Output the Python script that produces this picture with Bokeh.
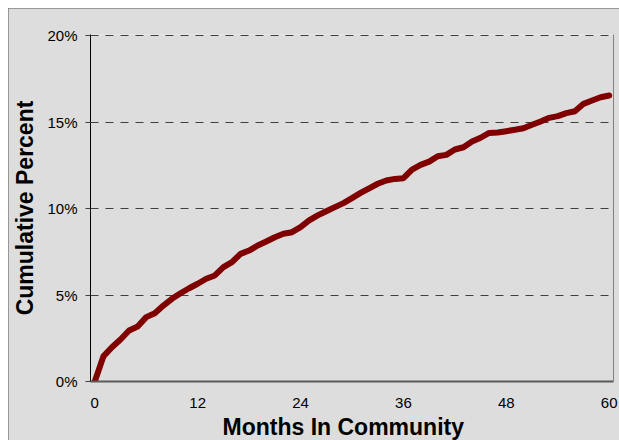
from bokeh.plotting import figure
from bokeh.embed import file_html
from bokeh.resources import INLINE
from bokeh.models import FixedTicker, NumeralTickFormatter, LinearAxis, Title, Range1d

# Data: cumulative percent by month in community
months = list(range(0, 61))
cum_pct = [0.00, 1.45, 1.98, 2.43, 2.95, 3.18, 3.72, 3.95, 4.39, 4.78,
           5.10, 5.39, 5.65, 5.94, 6.13, 6.61, 6.90, 7.38, 7.57, 7.86,
           8.09, 8.34, 8.54, 8.63, 8.92, 9.31, 9.60, 9.84, 10.08, 10.31,
           10.60, 10.90, 11.17, 11.43, 11.62, 11.71, 11.75, 12.25, 12.52, 12.71,
           13.02, 13.10, 13.41, 13.54, 13.87, 14.09, 14.37, 14.39, 14.47, 14.55,
           14.64, 14.84, 15.03, 15.24, 15.34, 15.51, 15.62, 16.05, 16.24, 16.43,
           16.53]
x_ticks = [0, 12, 24, 36, 48, 60]
y_ticks = [0.0, 0.05, 0.10, 0.15, 0.20]
x_title = "Months In Community"
y_title = "Cumulative Percent"

cum_frac = [v / 100.0 for v in cum_pct]

BG = "#DDDDDD"
FONT = "Liberation Sans"

p = figure(frame_width=523, frame_height=347, output_backend="svg",
           toolbar_location=None,
           x_range=Range1d(-0.5, 60.5), y_range=Range1d(0, 0.20058),
           min_border_left=82, min_border_top=26, min_border_right=6,
           min_border_bottom=59)
p.background_fill_color = BG
p.border_fill_color = BG
p.outline_line_color = None
p.styles = {"margin-left": "8px", "margin-top": "8px",
            "outline": "1px solid #7f7f7f", "outline-offset": "-1px"}

# grid
p.xgrid.grid_line_color = None
p.ygrid.ticker = FixedTicker(ticks=y_ticks)
p.ygrid.grid_line_color = "#404040"
p.ygrid.grid_line_dash = "8 7"
p.ygrid.grid_line_width = 1

# x axis
xa = p.xaxis[0]
xa.ticker = FixedTicker(ticks=x_ticks)
xa.major_tick_out = 0
xa.major_tick_in = 0
xa.minor_tick_out = 0
xa.minor_tick_in = 0
xa.axis_line_color = "#5a5a5a"
xa.axis_line_width = 2
xa.major_label_text_font = FONT
xa.major_label_text_font_size = "15px"
xa.major_label_text_color = "#000000"
xa.major_label_standoff = 16

# y axis
ya = p.yaxis[0]
ya.ticker = FixedTicker(ticks=y_ticks)
ya.formatter = NumeralTickFormatter(format="0%")
ya.major_tick_out = 5
ya.major_tick_in = 0
ya.minor_tick_out = 0
ya.minor_tick_in = 0
ya.major_tick_line_color = "#404040"
ya.axis_line_color = "#000000"
ya.axis_line_width = 1
ya.major_label_text_font = FONT
ya.major_label_text_font_size = "15px"
ya.major_label_text_color = "#000000"
ya.major_label_standoff = 8
ya.axis_label = y_title
ya.axis_label_text_font = FONT
ya.axis_label_text_font_size = "23px"
ya.axis_label_text_font_style = "bold"
ya.axis_label_text_color = "#000000"
ya.axis_label_standoff = 6

# right edge line
ra = LinearAxis(ticker=FixedTicker(ticks=[]), major_label_text_font_size="0px",
                major_label_standoff=0, major_tick_out=0, major_tick_in=0,
                minor_tick_out=0, minor_tick_in=0, axis_line_color="#808080",
                axis_line_width=1)
p.add_layout(ra, "right")

# x title below
t = Title(text=x_title, align="left", offset=132, text_font=FONT,
          text_font_size="23px", text_font_style="bold", text_color="#000000",
          standoff=2)
p.add_layout(t, "below")

p.line(months, cum_frac, line_width=6, line_color="#800000",
       line_cap="round", line_join="round")

open("out.html", "w").write(file_html(p, INLINE))
